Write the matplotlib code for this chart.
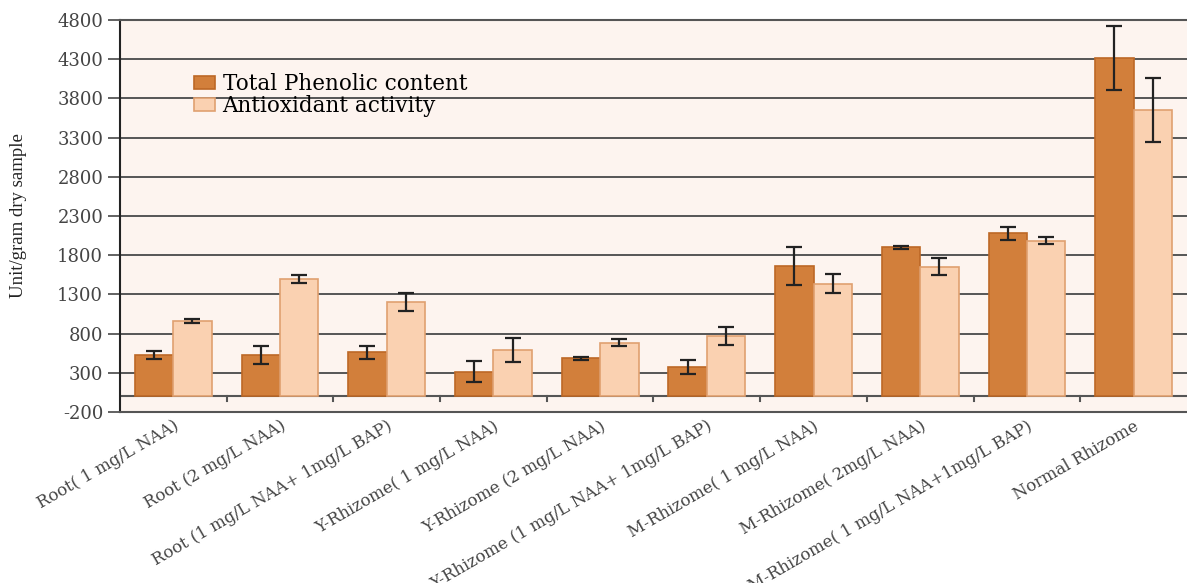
import numpy as np
from matplotlib import pyplot as plt

plt.rcParams['axes.unicode_minus'] = False

categories = ['Root( 1 mg/L NAA)', 'Root (2 mg/L NAA)', 'Root (1 mg/L NAA+ 1mg/L BAP)',
              'Y-Rhizome( 1 mg/L NAA)', 'Y-Rhizome (2 mg/L NAA)', 'Y-Rhizome (1 mg/L NAA+ 1mg/L BAP)',
              'M-Rhizome( 1 mg/L NAA)', 'M-Rhizome( 2mg/L NAA)', 'M-Rhizome( 1 mg/L NAA+1mg/L BAP)',
              'Normal Rhizome']
phenolic = [527, 527, 561, 314, 484, 378, 1662, 1900, 2079, 4315]
phenolic_err = [50, 110, 80, 134, 23, 87, 244, 21, 85, 408]
antioxidant = [960, 1496, 1199, 590, 684, 773, 1436, 1653, 1985, 3656]
antioxidant_err = [22, 53, 113, 153, 47, 117, 119, 110, 47, 408]
yticks = [-200, 300, 800, 1300, 1800, 2300, 2800, 3300, 3800, 4300, 4800]

dark = '#d27f3b'
light = '#fad1b1'
grey = '#555555'

fig = plt.figure(figsize=(11.87, 5.83), dpi=100)
ax = fig.add_axes([0.101, 0.2933, 0.899, 0.6724])
ax.set_facecolor('#fdf4ef')

x = np.arange(len(categories))
w = 0.36
ax.bar(x - w / 2, phenolic, w, color=dark, edgecolor='#bd6826', linewidth=1.2,
       label='Total Phenolic content', zorder=3)
ax.bar(x + w / 2, antioxidant, w, color=light, edgecolor='#e0a070', linewidth=1.2,
       label='Antioxidant activity', zorder=3)
ax.errorbar(x - w / 2, phenolic, yerr=phenolic_err, fmt='none', ecolor='#222222',
            elinewidth=1.6, capsize=6, capthick=1.6, zorder=4)
ax.errorbar(x + w / 2, antioxidant, yerr=antioxidant_err, fmt='none', ecolor='#222222',
            elinewidth=1.6, capsize=6, capthick=1.6, zorder=4)

# baseline with small ticks between groups
ax.axhline(0, color=grey, lw=1.5, zorder=2)
for b in x[:-1] + 0.5:
    ax.plot([b, b], [0, -60], color=grey, lw=1.5, zorder=2)

ax.set_xlim(-0.5, len(categories) - 0.5)
ax.set_ylim(-200, 4800)
ax.set_yticks(yticks)
ax.yaxis.grid(True, color=grey, lw=1.4, zorder=1)
ax.set_axisbelow(True)

ax.set_xticks(x)
ax.set_xticklabels(categories, rotation=30, ha='right', va='top', rotation_mode='anchor',
                   family='DejaVu Serif', fontsize=12, color='#444444')
ax.tick_params(axis='x', length=0, pad=4)
ax.tick_params(axis='y', length=9, width=1.3, color=grey, labelsize=13, labelcolor='#444444', pad=3)
for lab in ax.get_yticklabels():
    lab.set_family('DejaVu Serif')

for s in ['top', 'bottom']:
    ax.spines[s].set_color(grey)
    ax.spines[s].set_linewidth(1.5)
ax.spines['left'].set_color('#222222')
ax.spines['left'].set_linewidth(1.5)
ax.spines['right'].set_visible(False)

ax.set_ylabel('Unit/gram dry sample', family='Liberation Serif', fontsize=13.5, color='#222222')
ax.yaxis.set_label_coords(-0.087, 0.5)

ax.legend(loc='upper left', bbox_to_anchor=(0.069, 0.865), frameon=False,
          prop={'family': 'DejaVu Serif', 'size': 15.5}, handlelength=1.0, handleheight=0.55,
          handletextpad=0.35, labelspacing=0.0, borderpad=0, borderaxespad=0)

fig.savefig('out.png', dpi=100)
